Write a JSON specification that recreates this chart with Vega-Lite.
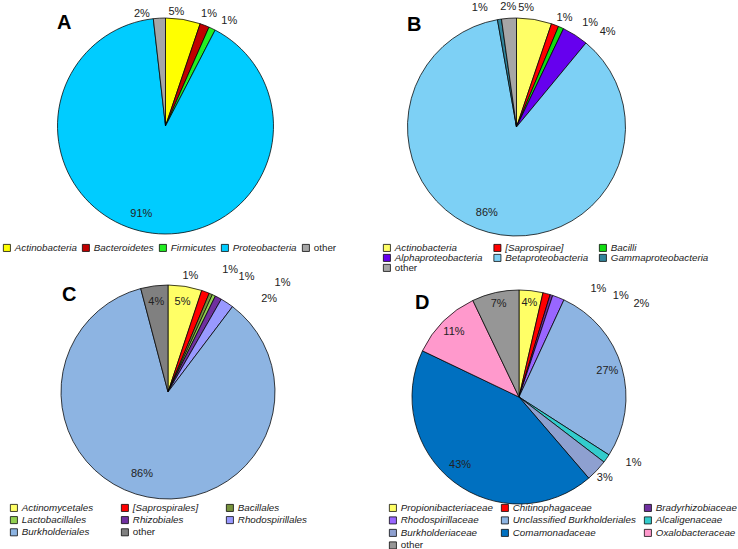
{
  "$schema": "https://vega.github.io/schema/vega-lite/v6.json",
  "padding": 0,
  "background": "white",
  "config": {
    "view": {"stroke": null},
    "font": "Liberation Sans",
    "text": {"font": "Liberation Sans", "fontSize": 11, "color": "#222222"},
    "arc": {"stroke": "black", "strokeWidth": 0.75},
    "title": {"font": "Liberation Sans", "fontSize": 20, "fontWeight": "bold", "color": "black", "anchor": "start", "frame": "group", "offset": 0, "baseline": "alphabetic"},
    "legend": {
      "title": null, "symbolType": "square", "symbolSize": 50, "symbolStrokeColor": "black", "symbolStrokeWidth": 0.7,
      "labelFont": "Liberation Sans", "labelFontSize": 9.8, "labelColor": "#222222", "labelOffset": 3, "padding": 0, "labelLimit": 300, "orient": "none", "direction": "horizontal",
      "labelFontStyle": {"expr": "datum.label === 'other' ? 'normal' : 'italic'"}
    }
  },
  "datasets": {
    "A": [
      {"i": 1, "taxon": "Actinobacteria", "value": 5.2, "label": "5%"},
      {"i": 2, "taxon": "Bacteroidetes", "value": 1.4, "label": "1%"},
      {"i": 3, "taxon": "Firmicutes", "value": 1.0, "label": "1%"},
      {"i": 4, "taxon": "Proteobacteria", "value": 90.6, "label": "91%"},
      {"i": 5, "taxon": "other", "value": 1.8, "label": "2%"}
    ],
    "B": [
      {"i": 1, "taxon": "Actinobacteria", "value": 5.2, "label": "5%"},
      {"i": 2, "taxon": "[Saprospirae]", "value": 1.1, "label": "1%"},
      {"i": 3, "taxon": "Bacilli", "value": 0.8, "label": "1%"},
      {"i": 4, "taxon": "Alphaproteobacteria", "value": 3.9, "label": "4%"},
      {"i": 5, "taxon": "Betaproteobacteria", "value": 86.2, "label": "86%"},
      {"i": 6, "taxon": "Gammaproteobacteria", "value": 0.6, "label": "1%"},
      {"i": 7, "taxon": "other", "value": 2.2, "label": "2%"}
    ],
    "C": [
      {"i": 1, "taxon": "Actinomycetales", "value": 5.1, "label": "5%"},
      {"i": 2, "taxon": "[Saprospirales]", "value": 1.2, "label": "1%"},
      {"i": 3, "taxon": "Bacillales", "value": 0.5, "label": "1%"},
      {"i": 4, "taxon": "Lactobacillales", "value": 0.5, "label": "1%"},
      {"i": 5, "taxon": "Rhizobiales", "value": 1.0, "label": "1%"},
      {"i": 6, "taxon": "Rhodospirillales", "value": 2.0, "label": "2%"},
      {"i": 7, "taxon": "Burkholderiales", "value": 85.6, "label": "86%"},
      {"i": 8, "taxon": "other", "value": 4.1, "label": "4%"}
    ],
    "D": [
      {"i": 1, "taxon": "Propionibacteriaceae", "value": 3.6, "label": "4%"},
      {"i": 2, "taxon": "Chitinophagaceae", "value": 1.1, "label": "1%"},
      {"i": 3, "taxon": "Bradyrhizobiaceae", "value": 0.4, "label": "1%"},
      {"i": 4, "taxon": "Rhodospirillaceae", "value": 1.8, "label": "2%"},
      {"i": 5, "taxon": "Unclassified Burkholderiales", "value": 27.2, "label": "27%"},
      {"i": 6, "taxon": "Alcaligenaceae", "value": 1.3, "label": "1%"},
      {"i": 7, "taxon": "Burkholderiaceae", "value": 3.3, "label": "3%"},
      {"i": 8, "taxon": "Comamonadaceae", "value": 43.4, "label": "43%"},
      {"i": 9, "taxon": "Oxalobacteraceae", "value": 10.8, "label": "11%"},
      {"i": 10, "taxon": "other", "value": 7.1, "label": "7%"}
    ]
  },
  "columns": 2,
  "spacing": {"row": 28, "column": 0},
  "bounds": "flush",
  "resolve": {"scale": {"color": "independent", "theta": "independent"}, "legend": {"color": "independent"}},
  "concat": [
    {
      "width": 331, "height": 250,
      "data": {"name": "A"},
      "title": {"text": "A", "dx": 57, "dy": 37},
      "encoding": {
        "theta": {"field": "value", "type": "quantitative", "stack": true},
        "order": {"field": "i", "type": "quantitative"}
      },
      "layer": [
        {"mark": {"type": "arc", "outerRadius": 108},
         "encoding": {"color": {"field": "taxon", "type": "nominal",
           "scale": {"domain": ["Actinobacteria", "Bacteroidetes", "Firmicutes", "Proteobacteria", "other"],
                     "range": ["#FFFF00", "#C00000", "#22EE22", "#00CCFF", "#A6A6A6"]},
           "legend": {"legendX": 2, "legendY": 242, "columnPadding": 3}}}},
        {"mark": {"type": "text", "radius": 89, "dx": -8},
         "encoding": {"detail": {"field": "taxon"}, "text": {"condition": {"test": "datum.taxon === 'Proteobacteria'", "field": "label"}, "value": ""}}},
        {"mark": {"type": "text", "radius": 120},
         "encoding": {"detail": {"field": "taxon"}, "text": {"condition": {"test": "datum.taxon === 'Bacteroidetes'", "field": "label"}, "value": ""}}},
        {"mark": {"type": "text", "radius": 116, "dx": -8},
         "encoding": {"detail": {"field": "taxon"}, "text": {"condition": {"test": "datum.taxon === 'Actinobacteria'", "field": "label"}, "value": ""}}},
        {"mark": {"type": "text", "radius": 120, "dx": 12, "dy": 3},
         "encoding": {"detail": {"field": "taxon"}, "text": {"condition": {"test": "datum.taxon === 'Firmicutes'", "field": "label"}, "value": ""}}},
        {"mark": {"type": "text", "radius": 116, "dx": -17, "dy": 4},
         "encoding": {"detail": {"field": "taxon"}, "text": {"condition": {"test": "datum.taxon === 'other'", "field": "label"}, "value": ""}}}
      ]
    },
    {
      "width": 361, "height": 252,
      "data": {"name": "B"},
      "title": {"text": "B", "dx": 71, "dy": 39},
      "encoding": {
        "theta": {"field": "value", "type": "quantitative", "stack": true},
        "order": {"field": "i", "type": "quantitative"}
      },
      "layer": [
        {"mark": {"type": "arc", "outerRadius": 109},
         "encoding": {"color": {"field": "taxon", "type": "nominal",
           "scale": {"domain": ["Actinobacteria", "[Saprospirae]", "Bacilli", "Alphaproteobacteria", "Betaproteobacteria", "Gammaproteobacteria", "other"],
                     "range": ["#FFFF66", "#FF0000", "#11DD11", "#6600EE", "#7DD0F5", "#31849B", "#A6A6A6"]},
           "legend": {"legendX": 46, "legendY": 242, "columns": 3, "columnPadding": 8.5, "rowPadding": -1.2}}}},
        {"mark": {"type": "text", "radius": 89, "dx": -7},
         "encoding": {"detail": {"field": "taxon"}, "text": {"condition": {"test": "datum.taxon === 'Betaproteobacteria'", "field": "label"}, "value": ""}}},
        {"mark": {"type": "text", "radius": 121, "dx": -10},
         "encoding": {"detail": {"field": "taxon"}, "text": {"condition": {"test": "datum.taxon === 'Actinobacteria'", "field": "label"}, "value": ""}}},
        {"mark": {"type": "text", "radius": 119, "dx": 6, "dy": 2},
         "encoding": {"detail": {"field": "taxon"}, "text": {"condition": {"test": "datum.taxon === '[Saprospirae]'", "field": "label"}, "value": ""}}},
        {"mark": {"type": "text", "radius": 119, "dx": 25, "dy": 5},
         "encoding": {"detail": {"field": "taxon"}, "text": {"condition": {"test": "datum.taxon === 'Bacilli'", "field": "label"}, "value": ""}}},
        {"mark": {"type": "text", "radius": 119, "dx": 27, "dy": 5},
         "encoding": {"detail": {"field": "taxon"}, "text": {"condition": {"test": "datum.taxon === 'Alphaproteobacteria'", "field": "label"}, "value": ""}}},
        {"mark": {"type": "text", "radius": 120},
         "encoding": {"detail": {"field": "taxon"}, "text": {"condition": {"test": "datum.taxon === 'other'", "field": "label"}, "value": ""}}},
        {"mark": {"type": "text", "radius": 120, "dx": -18},
         "encoding": {"detail": {"field": "taxon"}, "text": {"condition": {"test": "datum.taxon === 'Gammaproteobacteria'", "field": "label"}, "value": ""}}}
      ]
    },
    {
      "width": 336, "height": 222,
      "data": {"name": "C"},
      "title": {"text": "C", "dx": 62, "dy": 54},
      "encoding": {
        "theta": {"field": "value", "type": "quantitative", "stack": true},
        "order": {"field": "i", "type": "quantitative"}
      },
      "layer": [
        {"mark": {"type": "arc", "outerRadius": 107},
         "encoding": {"color": {"field": "taxon", "type": "nominal",
           "scale": {"domain": ["Actinomycetales", "[Saprospirales]", "Bacillales", "Lactobacillales", "Rhizobiales", "Rhodospirillales", "Burkholderiales", "other"],
                     "range": ["#FFFF66", "#FF0000", "#77933C", "#92D050", "#7030A0", "#9999FF", "#8DB4E2", "#808080"]},
           "legend": {"legendX": 9, "legendY": 222, "columns": 3, "columnPadding": 25, "rowPadding": 1.2}}}},
        {"mark": {"type": "text", "radius": 91},
         "encoding": {"detail": {"field": "taxon"}, "text": {"condition": {"test": "datum.taxon === 'Actinomycetales' || datum.taxon === 'other'", "field": "label"}, "value": ""}}},
        {"mark": {"type": "text", "radius": 88, "dx": -9, "dy": -4},
         "encoding": {"detail": {"field": "taxon"}, "text": {"condition": {"test": "datum.taxon === 'Burkholderiales'", "field": "label"}, "value": ""}}},
        {"mark": {"type": "text", "radius": 118, "dx": -19, "dy": -5},
         "encoding": {"detail": {"field": "taxon"}, "text": {"condition": {"test": "datum.taxon === '[Saprospirales]'", "field": "label"}, "value": ""}}},
        {"mark": {"type": "text", "radius": 118, "dx": 15, "dy": -14},
         "encoding": {"detail": {"field": "taxon"}, "text": {"condition": {"test": "datum.taxon === 'Bacillales'", "field": "label"}, "value": ""}}},
        {"mark": {"type": "text", "radius": 118, "dx": 28, "dy": -8},
         "encoding": {"detail": {"field": "taxon"}, "text": {"condition": {"test": "datum.taxon === 'Lactobacillales'", "field": "label"}, "value": ""}}},
        {"mark": {"type": "text", "radius": 118, "dx": 59, "dy": -5},
         "encoding": {"detail": {"field": "taxon"}, "text": {"condition": {"test": "datum.taxon === 'Rhizobiales'", "field": "label"}, "value": ""}}},
        {"mark": {"type": "text", "radius": 118, "dx": 36, "dy": 5},
         "encoding": {"detail": {"field": "taxon"}, "text": {"condition": {"test": "datum.taxon === 'Rhodospirillales'", "field": "label"}, "value": ""}}}
      ]
    },
    {
      "width": 366, "height": 232,
      "data": {"name": "D"},
      "title": {"text": "D", "dx": 79, "dy": 45},
      "encoding": {
        "theta": {"field": "value", "type": "quantitative", "stack": true},
        "order": {"field": "i", "type": "quantitative"}
      },
      "layer": [
        {"mark": {"type": "arc", "outerRadius": 107},
         "encoding": {"color": {"field": "taxon", "type": "nominal",
           "scale": {"domain": ["Propionibacteriaceae", "Chitinophagaceae", "Bradyrhizobiaceae", "Rhodospirillaceae", "Unclassified Burkholderiales", "Alcaligenaceae", "Burkholderiaceae", "Comamonadaceae", "Oxalobacteraceae", "other"],
                     "range": ["#FFFF66", "#FF0000", "#7030A0", "#9966FF", "#8DB4E2", "#33CCCC", "#8EA0D0", "#0070C0", "#FF99CC", "#969696"]},
           "legend": {"legendX": 52, "legendY": 222, "columns": 3, "columnPadding": 6, "rowPadding": 1.5}}}},
        {"mark": {"type": "text", "radius": 92},
         "encoding": {"detail": {"field": "taxon"}, "text": {"condition": {"test": "indexof(['Unclassified Burkholderiales','Oxalobacteraceae'], datum.taxon) >= 0", "field": "label"}, "value": ""}}},
        {"mark": {"type": "text", "radius": 92, "dy": -3},
         "encoding": {"detail": {"field": "taxon"}, "text": {"condition": {"test": "indexof(['Propionibacteriaceae','other'], datum.taxon) >= 0", "field": "label"}, "value": ""}}},
        {"mark": {"type": "text", "radius": 92, "dx": -3, "dy": -5},
         "encoding": {"detail": {"field": "taxon"}, "text": {"condition": {"test": "datum.taxon === 'Comamonadaceae'", "field": "label"}, "value": ""}}},
        {"mark": {"type": "text", "radius": 118, "dx": 49, "dy": 6},
         "encoding": {"detail": {"field": "taxon"}, "text": {"condition": {"test": "datum.taxon === 'Chitinophagaceae'", "field": "label"}, "value": ""}}},
        {"mark": {"type": "text", "radius": 118, "dx": 66, "dy": 11},
         "encoding": {"detail": {"field": "taxon"}, "text": {"condition": {"test": "datum.taxon === 'Bradyrhizobiaceae'", "field": "label"}, "value": ""}}},
        {"mark": {"type": "text", "radius": 118, "dx": 79, "dy": 17},
         "encoding": {"detail": {"field": "taxon"}, "text": {"condition": {"test": "datum.taxon === 'Rhodospirillaceae'", "field": "label"}, "value": ""}}},
        {"mark": {"type": "text", "radius": 118, "dx": 18, "dy": -2},
         "encoding": {"detail": {"field": "taxon"}, "text": {"condition": {"test": "datum.taxon === 'Alcaligenaceae'", "field": "label"}, "value": ""}}},
        {"mark": {"type": "text", "radius": 118},
         "encoding": {"detail": {"field": "taxon"}, "text": {"condition": {"test": "datum.taxon === 'Burkholderiaceae'", "field": "label"}, "value": ""}}}
      ]
    }
  ]
}
